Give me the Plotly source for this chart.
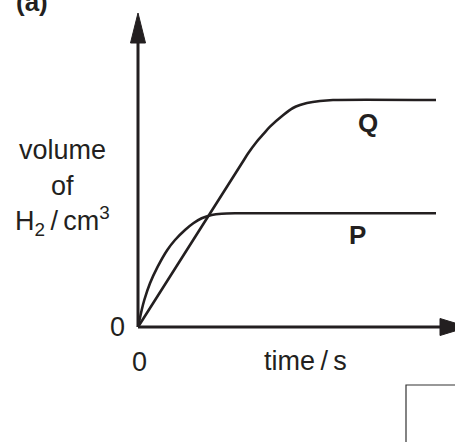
import plotly.graph_objects as go

# reaction curves (arbitrary units: time / s, volume / cm3)
q_time = [0, 10.4, 11.0, 11.87, 12.53, 13.2, 14.53, 15.5, 16.2, 16.9, 18.2, 19.5, 29.8]
q_volume = [0, 16.4, 17.35, 18.53, 19.28, 20.03, 21.2, 21.9, 22.2, 22.4, 22.6, 22.7, 22.7]

p_time = [0, 0.37, 0.63, 1.2, 1.97, 2.93, 3.7, 4.7, 5.53, 6.37, 7.37, 8.37, 9.7, 29.8]
p_volume = [0, 1.7, 2.7, 4.37, 6.03, 7.7, 8.7, 9.7, 10.37, 10.87, 11.2, 11.33, 11.37, 11.37]

INK = "#231f20"
FONT = "Liberation Sans, Arial, sans-serif"

fig = go.Figure()

fig.add_trace(go.Scatter(
    x=q_time, y=q_volume, mode="lines", name="Q",
    line=dict(color=INK, width=2.6, shape="spline", smoothing=0.8),
    hoverinfo="skip"
))
fig.add_trace(go.Scatter(
    x=p_time, y=p_volume, mode="lines", name="P",
    line=dict(color=INK, width=2.6, shape="spline", smoothing=0.6),
    hoverinfo="skip"
))

# axes drawn by hand with arrow heads
fig.add_shape(type="line", x0=0, y0=0, x1=0, y1=28.6, line=dict(color=INK, width=3))
fig.add_shape(type="line", x0=0, y0=0, x1=30.4, y1=0, line=dict(color=INK, width=3))
fig.add_shape(type="path", path="M -0.75 28.4 L 0.75 28.4 L 0 31.4 Z",
              fillcolor=INK, line=dict(color=INK, width=1))
fig.add_shape(type="path", path="M 30.2 -0.85 L 30.2 0.85 L 33.0 0 Z",
              fillcolor=INK, line=dict(color=INK, width=1))

# answer box corner at bottom right
fig.add_shape(type="rect", xref="paper", yref="paper",
              x0=406 / 455, y0=-0.1, x1=1.1, y1=1 - 385 / 442,
              line=dict(color="#333333", width=1.2))

txt = dict(family=FONT, size=27, color=INK)
bold = dict(family=FONT, size=26, color=INK, weight="bold")

fig.add_annotation(x=-7.6, y=17.7, text="volume", showarrow=False, font=txt)
fig.add_annotation(x=-7.6, y=14.1, text="of", showarrow=False, font=txt)
fig.add_annotation(x=-7.6, y=10.6, text="H<sub>2</sub>\u2009/\u2009cm<sup>3</sup>",
                   showarrow=False, font=txt)
fig.add_annotation(x=-2.1, y=0, text="0", showarrow=False, font=txt)
fig.add_annotation(x=0.1, y=-3.5, text="0", showarrow=False, font=txt)
fig.add_annotation(x=16.7, y=-3.4, text="time\u2009/\u2009s", showarrow=False, font=txt)
fig.add_annotation(x=23.0, y=20.4, text="Q", showarrow=False, font=bold)
fig.add_annotation(x=21.9, y=9.2, text="P", showarrow=False, font=bold)
fig.add_annotation(x=-10.6, y=32.5, text="(a)", showarrow=False, font=bold)

fig.update_layout(
    width=455, height=442,
    margin=dict(l=0, r=0, t=0, b=0),
    paper_bgcolor="white", plot_bgcolor="white",
    showlegend=False,
    xaxis=dict(range=[-13.8, 31.7], visible=False, fixedrange=True),
    yaxis=dict(range=[-11.5, 32.7], visible=False, fixedrange=True),
)

fig.write_html("out.html", config={"displayModeBar": False},
               post_script="document.body.style.margin='0';")
